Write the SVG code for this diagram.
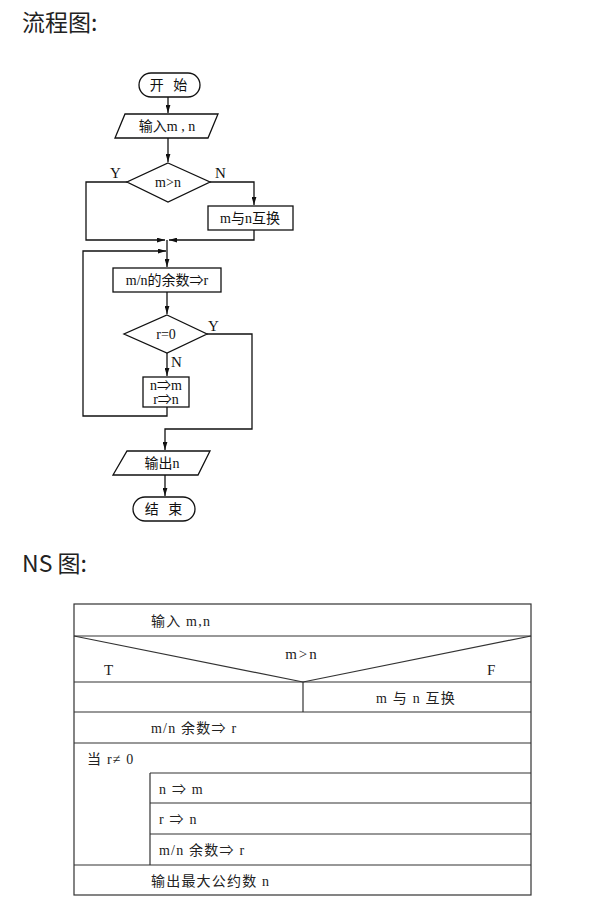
<svg xmlns="http://www.w3.org/2000/svg" width="601" height="908" viewBox="0 0 601 908">
<style>
.title{font-family:"Noto Sans CJK SC","Noto Sans",sans-serif;font-size:23px;fill:#222}
.ft{font-family:"Liberation Serif","Noto Sans CJK SC",serif;font-size:14px;fill:#111;text-anchor:middle}
.lbl{font-family:"Liberation Serif",serif;font-size:15px;fill:#111}
.shape{fill:#fff;stroke:#111;stroke-width:1.3}
.conn{fill:none;stroke:#111;stroke-width:1.3}
.ns{fill:none;stroke:#333;stroke-width:1.2}
.nt{font-family:"Liberation Serif","Noto Sans CJK SC",serif;font-size:14px;letter-spacing:1.2px;fill:#222}
.nl{font-family:"Liberation Serif",serif;font-size:15px;fill:#222}
</style>
<defs>
<marker id="arr" viewBox="0 0 10 6" refX="10" refY="3" markerWidth="8" markerHeight="5" markerUnits="userSpaceOnUse" orient="auto">
<path d="M0,0 L10,3 L0,6 Z" fill="#111"/>
</marker>
</defs>
<rect width="601" height="908" fill="#fff"/>
<text class="title" x="22" y="31">流程图:</text>
<text class="title" x="22" y="572">NS 图:</text>

<g id="connectors">
<path class="conn" d="M168,97 V113" marker-end="url(#arr)"/>
<path class="conn" d="M168,138 V162" marker-end="url(#arr)"/>
<path class="conn" d="M127,182 H86 V240 H165" marker-end="url(#arr)"/>
<path class="conn" d="M210,182 H254 V205" marker-end="url(#arr)"/>
<path class="conn" d="M254,230 V240 H169" marker-end="url(#arr)"/>
<path class="conn" d="M167,240 V267" marker-end="url(#arr)"/>
<path class="conn" d="M167,407 V416 H83 V251 H166" marker-end="url(#arr)"/>
<path class="conn" d="M167,292 V314" marker-end="url(#arr)"/>
<path class="conn" d="M167,353 V376" marker-end="url(#arr)"/>
<path class="conn" d="M207,334 H252 V429 H165 V450" marker-end="url(#arr)"/>
<path class="conn" d="M165,475 V496" marker-end="url(#arr)"/>
</g>

<g id="start">
<rect class="shape" x="139" y="73" width="61" height="24" rx="12"/>
<text class="ft" x="170" y="90" style="letter-spacing:3px">开 始</text>
</g>
<g id="input">
<polygon class="shape" points="125,114 218,114 208,138 115,138"/>
<text class="ft" x="167" y="131">输入m , n</text>
</g>
<g id="cond1">
<polygon class="shape" points="168,163 210,182 168,202 127,182"/>
<text class="ft" x="168" y="187">m&gt;n</text>
<text class="lbl" x="110" y="178">Y</text>
<text class="lbl" x="215" y="178">N</text>
</g>
<g id="swap">
<rect class="shape" x="208" y="206" width="85" height="24"/>
<text class="ft" x="250" y="223">m与n互换</text>
</g>
<g id="rem">
<rect class="shape" x="113" y="268" width="108" height="24"/>
<text class="ft" x="167" y="285">m/n的余数⇒r</text>
</g>
<g id="cond2">
<polygon class="shape" points="167,315 207,334 167,353 124,334"/>
<text class="ft" x="166" y="339">r=0</text>
<text class="lbl" x="208" y="331">Y</text>
<text class="lbl" x="171" y="367">N</text>
</g>
<g id="assign">
<rect class="shape" x="143" y="377" width="46" height="30"/>
<text class="ft" x="166" y="390">n⇒m</text>
<text class="ft" x="166" y="404">r⇒n</text>
</g>
<g id="output">
<polygon class="shape" points="127,451 210,451 198,475 113,475"/>
<text class="ft" x="162" y="468">输出n</text>
</g>
<g id="end">
<rect class="shape" x="133" y="497" width="62" height="24" rx="12"/>
<text class="ft" x="165" y="514" style="letter-spacing:3px">结 束</text>
</g>

<g id="ns">
<rect class="ns" x="74" y="604" width="457" height="291"/>
<line class="ns" x1="74" y1="636" x2="531" y2="636"/>
<line class="ns" x1="74" y1="682" x2="531" y2="682"/>
<line class="ns" x1="74" y1="636" x2="303" y2="682"/>
<line class="ns" x1="531" y1="636" x2="303" y2="682"/>
<line class="ns" x1="303" y1="682" x2="303" y2="712"/>
<line class="ns" x1="74" y1="712" x2="531" y2="712"/>
<line class="ns" x1="74" y1="743" x2="531" y2="743"/>
<line class="ns" x1="150" y1="773" x2="531" y2="773"/>
<line class="ns" x1="150" y1="803" x2="531" y2="803"/>
<line class="ns" x1="150" y1="834" x2="531" y2="834"/>
<line class="ns" x1="150" y1="773" x2="150" y2="865"/>
<line class="ns" x1="74" y1="865" x2="531" y2="865"/>
<text class="nt" x="151" y="626">输入 m,n</text>
<text class="nl" x="302" y="659" text-anchor="middle" style="letter-spacing:2px">m&gt;n</text>
<text class="nl" x="104" y="675">T</text>
<text class="nl" x="487" y="675">F</text>
<text class="nt" x="416" y="703" text-anchor="middle">m 与 n 互换</text>
<text class="nt" x="151" y="733">m/n 余数⇒ r</text>
<text class="nt" x="87" y="764">当 r≠ 0</text>
<text class="nt" x="159" y="794">n ⇒ m</text>
<text class="nt" x="159" y="824">r ⇒ n</text>
<text class="nt" x="159" y="855">m/n 余数⇒ r</text>
<text class="nt" x="151" y="886">输出最大公约数 n</text>
</g>
</svg>
